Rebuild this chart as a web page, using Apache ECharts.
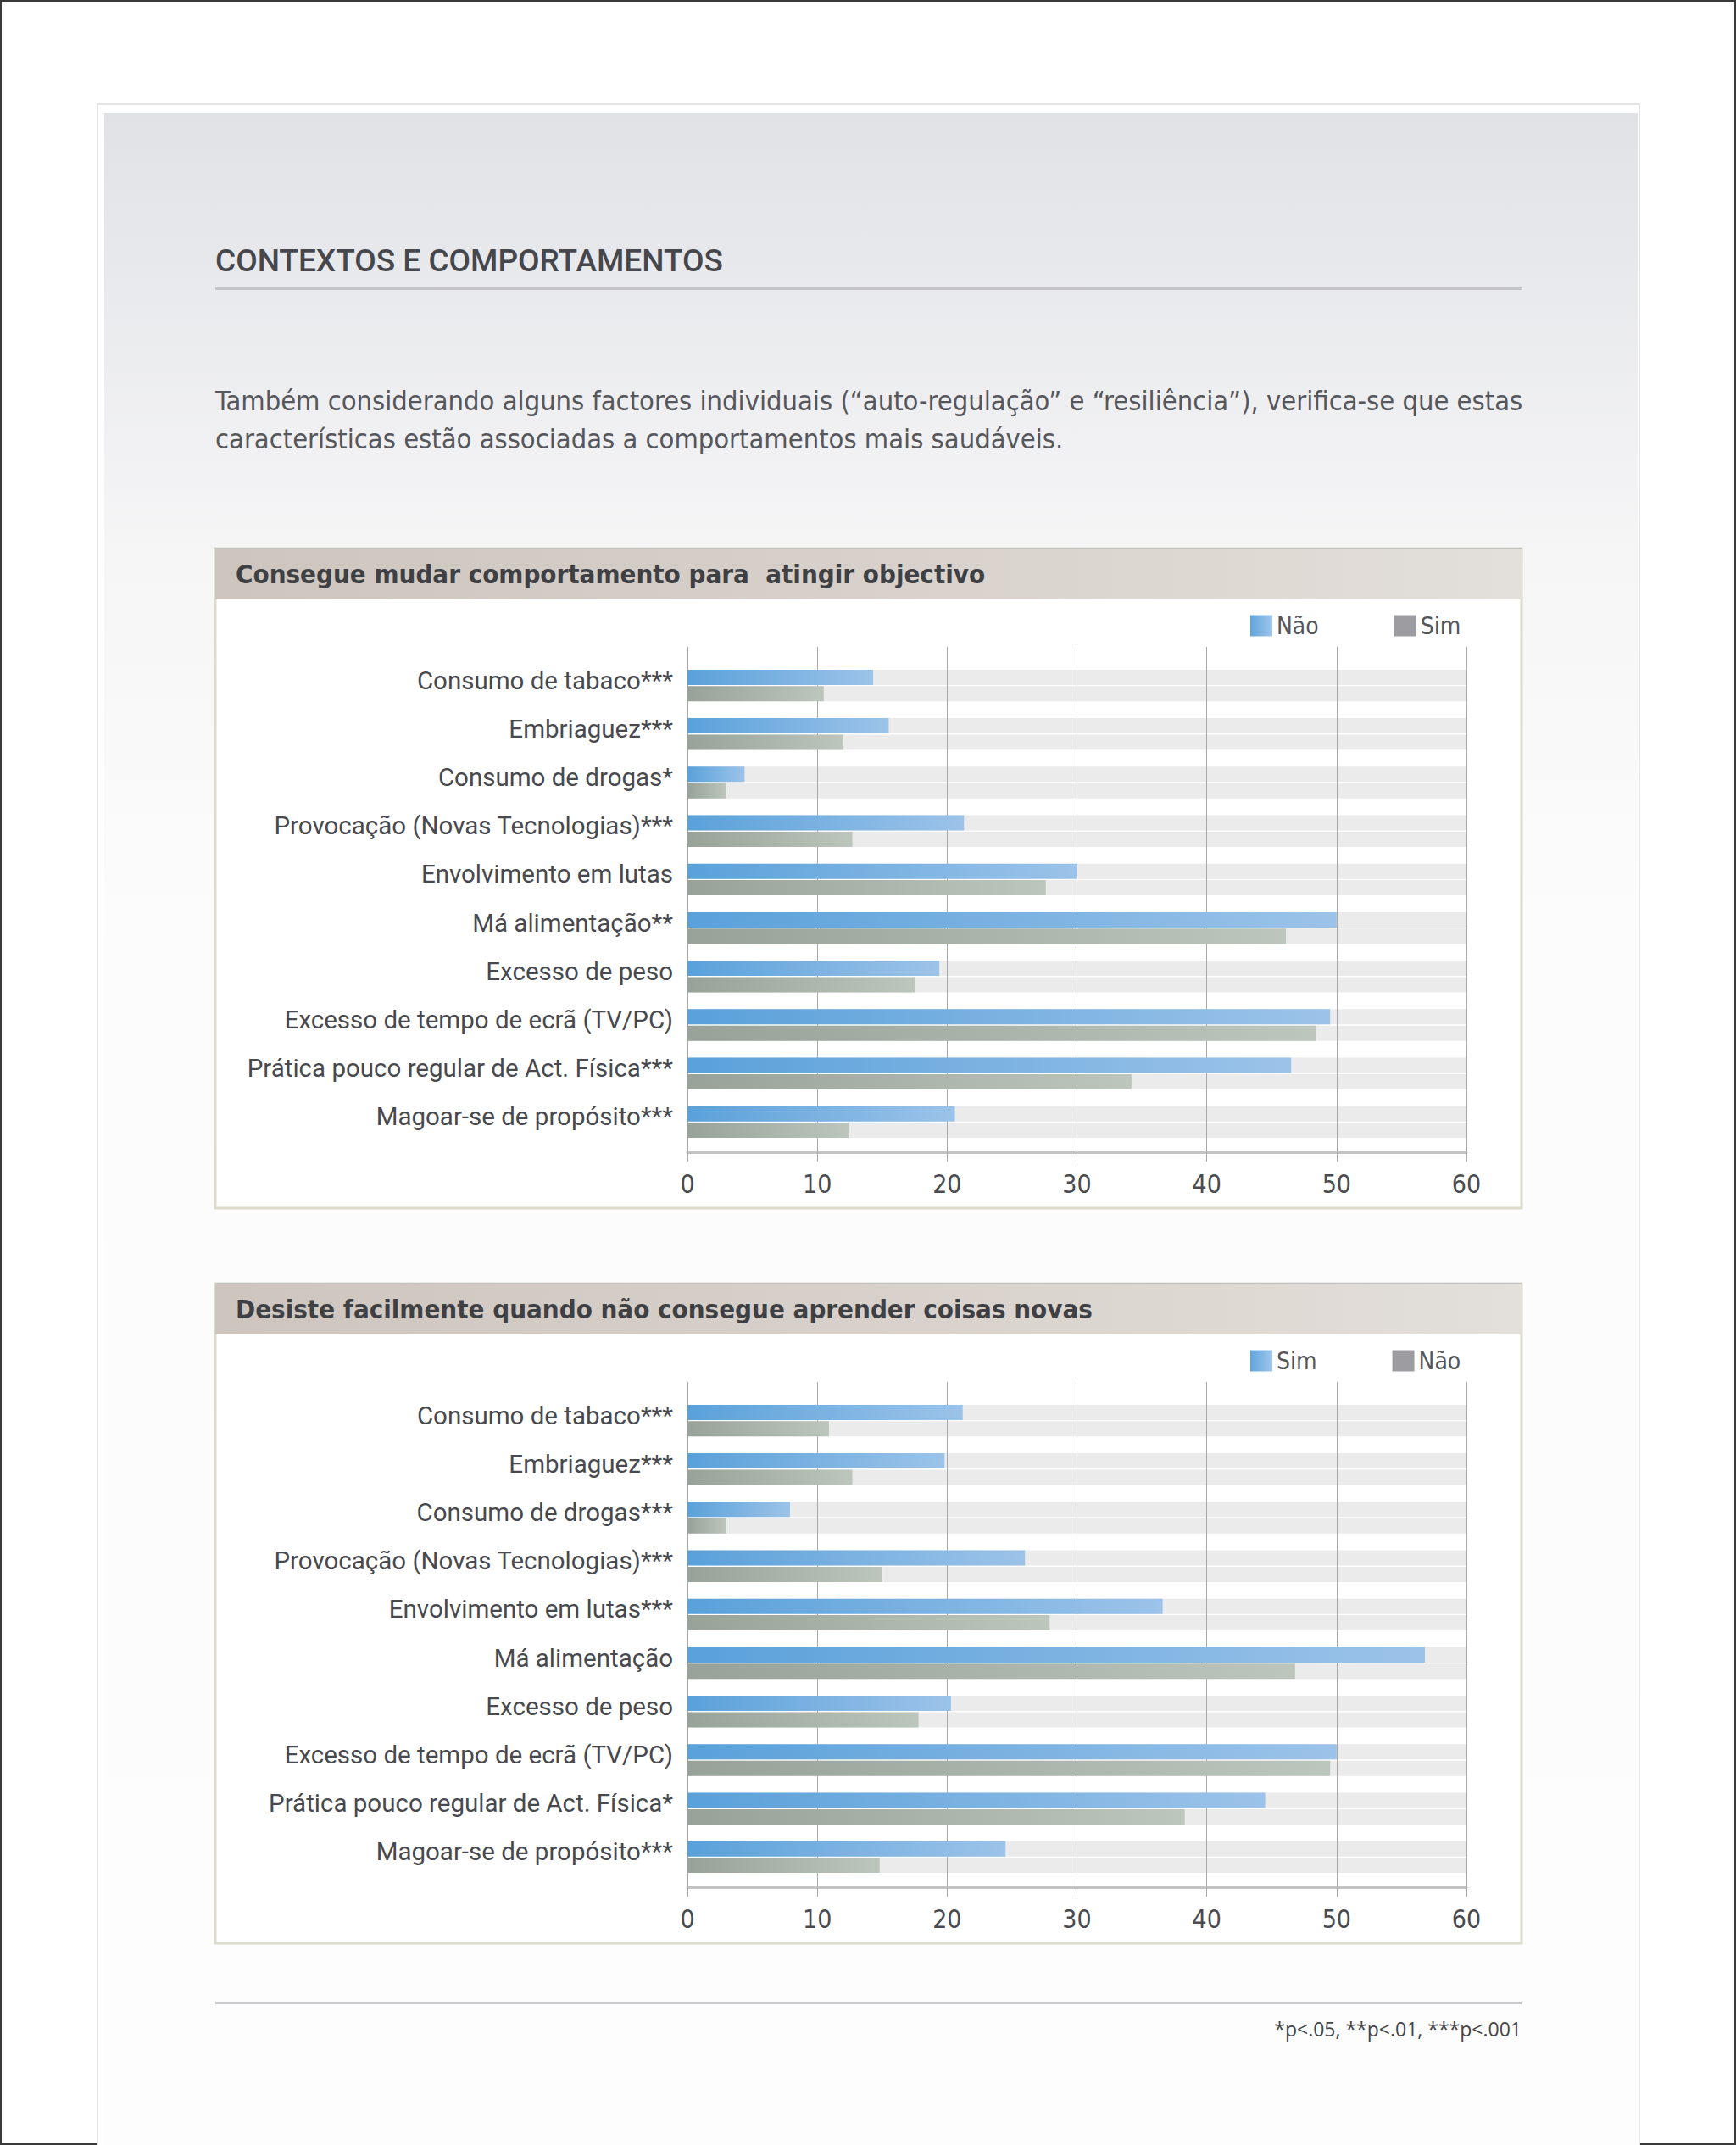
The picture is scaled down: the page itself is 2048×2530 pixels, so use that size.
<!DOCTYPE html>
<html>
<head>
<meta charset="utf-8">
<title>Contextos e comportamentos</title>
<script src="https://cdn.jsdelivr.net/npm/echarts@6/dist/echarts.min.js"></script>
<style>
html, body { margin: 0; padding: 0; background: #fff; }
#main { width: 2048px; height: 2530px; }
</style>
</head>
<body>
<div id="main"></div>
<script>
// categorias e valores (%)
var cats1 = ['Consumo de tabaco***', 'Embriaguez***', 'Consumo de drogas*', 'Provocação (Novas Tecnologias)***',
	'Envolvimento em lutas', 'Má alimentação**', 'Excesso de peso', 'Excesso de tempo de ecrã (TV/PC)',
	'Prática pouco regular de Act. Física***', 'Magoar-se de propósito***'];
var nao1 = [14.3, 15.5, 4.4, 21.3, 30.0, 50.0, 19.4, 49.5, 46.5, 20.6];
var sim1 = [10.5, 12.0, 3.0, 12.7, 27.6, 46.1, 17.5, 48.4, 34.2, 12.4];

var cats2 = ['Consumo de tabaco***', 'Embriaguez***', 'Consumo de drogas***', 'Provocação (Novas Tecnologias)***',
	'Envolvimento em lutas***', 'Má alimentação', 'Excesso de peso', 'Excesso de tempo de ecrã (TV/PC)',
	'Prática pouco regular de Act. Física*', 'Magoar-se de propósito***'];
var sim2 = [21.2, 19.8, 7.9, 26.0, 36.6, 56.8, 20.3, 50.0, 44.5, 24.5];
var nao2 = [10.9, 12.7, 3.0, 15.0, 27.9, 46.8, 17.8, 49.5, 38.3, 14.8];

var xMin = 0, xMax = 60, xStep = 10;

var narrow = "'Liberation Sans Narrow', 'DejaVu Sans Condensed', Roboto, sans-serif";
var din = "Roboto, 'Liberation Sans', sans-serif";

var blue = new echarts.graphic.LinearGradient(0, 0, 1, 0, [
	{ offset: 0, color: '#5aa1da' }, { offset: 1, color: '#9cc3e9' }
]);
var grey = new echarts.graphic.LinearGradient(0, 0, 1, 0, [
	{ offset: 0, color: '#98a298' }, { offset: 1, color: '#bcc6bd' }
]);

var grids = [], xAxes = [], yAxes = [], series = [], legends = [], graphics = [];

function addChart(k, dy, title, cats, first, second, names) {
	// caixa e faixa do título
	graphics.push({ type: 'rect', z: -15, shape: { x: 254, y: 647 + dy, width: 1541, height: 778 },
		style: { fill: '#fff', stroke: '#dddccb', lineWidth: 3 } });
	graphics.push({ type: 'rect', z: -14, shape: { x: 254, y: 647 + dy, width: 1541, height: 60 },
		style: { fill: new echarts.graphic.LinearGradient(0, 0, 1, 0, [
			{ offset: 0, color: '#cdc5be' }, { offset: 0.5, color: '#d8d1cb' }, { offset: 1, color: '#e3dfda' }]) } });
	graphics.push({ type: 'rect', z: -13, shape: { x: 254, y: 646 + dy, width: 1541, height: 2 },
		style: { fill: '#c2c2c2' } });
	graphics.push({ type: 'text', z: -12, x: 278, y: 677 + dy,
		style: { text: title, fill: '#3f4044', font: 'bold 31px ' + narrow, textVerticalAlign: 'middle' } });

	// grelha do eixo (linhas verticais, ticks, rótulos)
	grids.push({ left: 811, width: 919, top: 763 + dy, height: 596 });
	// grelha das barras
	grids.push({ left: 811, width: 919, top: 780 + dy, height: 572 });

	xAxes.push({
		gridIndex: 2 * k, type: 'value', min: xMin, max: xMax, interval: xStep,
		axisLine: { show: true, lineStyle: { color: '#c3c3c3', width: 3 } },
		axisTick: { show: true, length: 11, lineStyle: { color: '#a8a8a8' } },
		splitLine: { show: true, lineStyle: { color: '#a8a8a8', width: 1 } },
		axisLabel: { margin: 22, fontSize: 30, color: '#4a4b50', fontFamily: narrow }
	});
	xAxes.push({ gridIndex: 2 * k + 1, type: 'value', min: xMin, max: xMax, show: false });

	yAxes.push({ gridIndex: 2 * k, type: 'value', show: false });
	yAxes.push({
		gridIndex: 2 * k + 1, type: 'category', inverse: true, data: cats,
		axisLine: { show: false }, axisTick: { show: false },
		axisLabel: { margin: 17, fontSize: 29.5, color: '#48494e', fontFamily: din,
			verticalAlign: 'bottom', lineHeight: 12 }
	});
	yAxes.push({ gridIndex: 2 * k + 1, type: 'category', inverse: true, data: cats, show: false });

	var bar = { type: 'bar', barWidth: 18, barGap: '8%', xAxisIndex: 2 * k + 1, animation: false };
	// fundos cinzentos (por baixo das linhas da grelha)
	[first, second].forEach(function (d, j) {
		series.push(Object.assign({}, bar, {
			name: 'fundo' + k + j, yAxisIndex: 3 * k + 2, data: d, z: -1, silent: true,
			itemStyle: { color: 'rgba(0,0,0,0)' },
			showBackground: true, backgroundStyle: { color: '#ebebeb' }
		}));
	});
	series.push(Object.assign({}, bar, { name: names[0], yAxisIndex: 3 * k + 1, data: first, itemStyle: { color: blue } }));
	series.push(Object.assign({}, bar, { name: names[1], yAxisIndex: 3 * k + 1, data: second, itemStyle: { color: grey } }));

	legends.push({
		left: 1470, top: 719 + dy, icon: 'rect', itemWidth: 26, itemHeight: 25, itemGap: 89,
		selectedMode: false,
		textStyle: { fontSize: 28, color: '#55565a', fontFamily: narrow },
		data: [
			{ name: names[0], itemStyle: { color: new echarts.graphic.LinearGradient(0, 0, 1, 0, [
				{ offset: 0, color: '#62a5dc' }, { offset: 1, color: '#9fc6ea' }]) } },
			{ name: names[1], itemStyle: { color: '#9d9ca1' } }
		]
	});
}

// fundo da página
graphics.push({ type: 'rect', z: -20, shape: { x: 1, y: 1, width: 2046, height: 2528 },
	style: { fill: '#fff', stroke: '#3a3a3a', lineWidth: 2 } });
graphics.push({ type: 'rect', z: -19, shape: { x: 115, y: 123, width: 1819, height: 2420 },
	style: { fill: '#fff', stroke: '#e4e4e4', lineWidth: 2 } });
graphics.push({ type: 'rect', z: -18, shape: { x: 123, y: 133, width: 1809, height: 2400 },
	style: { fill: new echarts.graphic.LinearGradient(0, 0, 0, 1, [
		{ offset: 0, color: '#e1e2e6' }, { offset: 0.22, color: '#f6f6f7' },
		{ offset: 0.4, color: '#fcfcfc' }, { offset: 1, color: '#fdfdfd' }]) } });

graphics.push({ type: 'text', z: -12, x: 254, y: 307,
	style: { text: 'CONTEXTOS E COMPORTAMENTOS', fill: '#46474c', font: '500 37px ' + din, textVerticalAlign: 'middle' } });
graphics.push({ type: 'rect', z: -12, shape: { x: 254, y: 339, width: 1541, height: 3 }, style: { fill: '#c5c5c9' } });
graphics.push({ type: 'text', z: -12, x: 254, y: 473,
	style: { text: 'Também considerando alguns factores individuais (“auto-regulação” e “resiliência”), verifica-se que estas',
		fill: '#56575c', font: '32.4px ' + narrow, textVerticalAlign: 'middle' } });
graphics.push({ type: 'text', z: -12, x: 254, y: 518,
	style: { text: 'características estão associadas a comportamentos mais saudáveis.',
		fill: '#56575c', font: '32.4px ' + narrow, textVerticalAlign: 'middle' } });

graphics.push({ type: 'rect', z: -12, shape: { x: 254, y: 2361, width: 1541, height: 3 }, style: { fill: '#cacacd' } });
graphics.push({ type: 'text', z: -12, x: 1795, y: 2393,
	style: { text: '*p<.05, **p<.01, ***p<.001', fill: '#45464a', font: "23px 'Open Sans', sans-serif",
		textAlign: 'right', textVerticalAlign: 'middle' } });

addChart(0, 0, 'Consegue mudar comportamento para  atingir objectivo', cats1, nao1, sim1, ['Não', 'Sim']);
addChart(1, 867, 'Desiste facilmente quando não consegue aprender coisas novas', cats2, sim2, nao2, ['Sim', 'Não']);

var chart = echarts.init(document.getElementById('main'), null, { renderer: 'svg' });
chart.setOption({
	animation: false,
	grid: grids,
	xAxis: xAxes,
	yAxis: yAxes,
	legend: legends,
	series: series,
	graphic: { elements: graphics }
});
</script>
</body>
</html>
